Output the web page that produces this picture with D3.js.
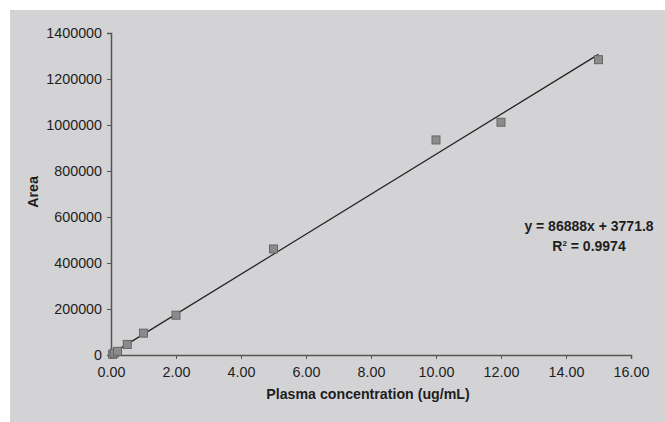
<!DOCTYPE html>
<html>
<head>
<meta charset="utf-8">
<script src="https://cdn.jsdelivr.net/npm/d3@7"></script>
<style>
  body { margin: 0; background: #fff; }
  svg { display: block; }
</style>
</head>
<body>
<div class="chart"></div>
<script>
// concentration (ug/mL) vs peak area
const conc = [0.05, 0.1, 0.2, 0.5, 1, 2, 5, 10, 12, 15];
const area = [3000, 8000, 16000, 46000, 95000, 173000, 461000, 935000, 1012000, 1284000];
const slope = 86888, intercept = 3771.8;
const xTicks = [0, 2, 4, 6, 8, 10, 12, 14, 16];
const yTicks = [0, 200000, 400000, 600000, 800000, 1000000, 1200000, 1400000];

const width = 665, height = 422;
const font = 'Liberation Sans, Arial, sans-serif';

const svg = d3.select('.chart').append('svg')
    .attr('width', width)
    .attr('height', height);

svg.append('rect')
    .attr('x', 10).attr('y', 10)
    .attr('width', width - 10).attr('height', height - 10)
    .attr('fill', '#d3d3d5');

let x = d3.scaleLinear().domain([0, 16]).range([111, 631]);
let y = d3.scaleLinear().domain([0, 1400000]).range([355, 33]);

let gx = svg.append('g')
    .attr('transform', `translate(0, ${y(0)})`)
    .call(d3.axisBottom(x).tickValues(xTicks).tickFormat(d3.format('.2f')).tickSizeOuter(4).tickSize(4));
let gy = svg.append('g')
    .attr('transform', `translate(${x(0)}, 0)`)
    .call(d3.axisLeft(y).tickValues(yTicks).tickFormat(d3.format('d')).tickSizeOuter(4).tickSize(4));

[gx, gy].forEach(g => {
    g.select('.domain').attr('stroke', '#555').attr('stroke-width', 1.5);
    g.selectAll('.tick line').attr('stroke', '#555');
    g.selectAll('text')
        .attr('font-family', font)
        .attr('font-size', 14.3)
        .attr('fill', '#1e1e1e');
});
gx.selectAll('text').attr('y', 12).attr('dy', '0.71em');
gy.selectAll('text').attr('x', -9);

// trendline
svg.append('line')
    .attr('x1', x(0)).attr('y1', y(intercept))
    .attr('x2', x(15)).attr('y2', y(slope * 15 + intercept))
    .attr('stroke', '#222')
    .attr('stroke-width', 1.2);

svg.selectAll('rect.pt')
    .data(conc)
    .join('rect')
    .attr('class', 'pt')
    .attr('x', (d, i) => x(d) - 4)
    .attr('y', (d, i) => y(area[i]) - 4)
    .attr('width', 8).attr('height', 8)
    .attr('fill', '#8b8b8d')
    .attr('stroke', '#666')
    .attr('stroke-width', 1);

// labels
svg.append('text')
    .attr('x', 368).attr('y', 399)
    .attr('text-anchor', 'middle')
    .attr('font-family', font).attr('font-size', 14.2).attr('font-weight', 'bold')
    .attr('fill', '#1e1e1e')
    .text('Plasma concentration (ug/mL)');

svg.append('text')
    .attr('transform', 'translate(38, 192) rotate(-90)')
    .attr('text-anchor', 'middle')
    .attr('font-family', font).attr('font-size', 14.2).attr('font-weight', 'bold')
    .attr('fill', '#1e1e1e')
    .text('Area');

const eq = svg.append('g')
    .attr('font-family', font).attr('font-size', 14).attr('font-weight', 'bold')
    .attr('fill', '#1e1e1e')
    .attr('text-anchor', 'middle');
eq.append('text')
    .attr('x', 589).attr('y', 231)
    .text(`y = ${slope}x + ${intercept}`);
const r2 = eq.append('text')
    .attr('x', 589).attr('y', 251);
r2.append('tspan').text('R');
r2.append('tspan').attr('font-size', 8).attr('dy', -5).text('2');
r2.append('tspan').attr('dy', 5).text(' = 0.9974');
</script>
</body>
</html>
